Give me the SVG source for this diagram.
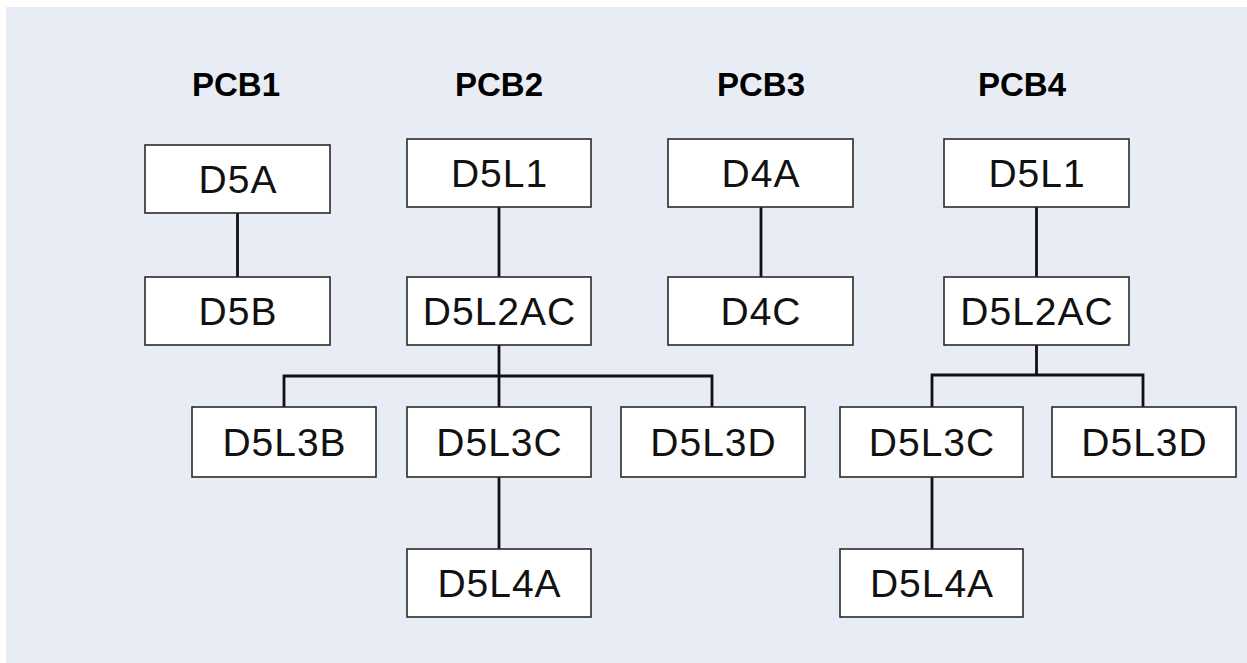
<svg xmlns="http://www.w3.org/2000/svg" width="1247" height="663" viewBox="0 0 1247 663">
<style>
.box{fill:#ffffff;stroke:#2a2a2a;stroke-width:1.6}
.lbl{font-family:"Liberation Sans",Arial,sans-serif;font-size:39px;letter-spacing:1px;fill:#111;text-anchor:middle}
.ttl{font-family:"Liberation Sans",Arial,sans-serif;font-size:33px;font-weight:bold;fill:#000;text-anchor:middle}
.con{fill:none;stroke:#111;stroke-width:2.8}
</style>
<rect x="0" y="0" width="1247" height="663" fill="#ffffff"/>
<rect x="6" y="7" width="1241" height="656" fill="#e8ecf4"/>
<g id="titles">
<text class="ttl" x="236" y="96">PCB1</text>
<text class="ttl" x="499" y="96">PCB2</text>
<text class="ttl" x="761" y="96">PCB3</text>
<text class="ttl" x="1022" y="96">PCB4</text>
</g>
<g id="connectors">
<path class="con" d="M237.5 213V277"/>
<path class="con" d="M499 207V277"/>
<path class="con" d="M499 345V407 M284 407V376H712V407"/>
<path class="con" d="M499 477V549"/>
<path class="con" d="M761 207V277"/>
<path class="con" d="M1036.5 207V277"/>
<path class="con" d="M1036.5 345V375 M932 407V375H1143V407"/>
<path class="con" d="M932 477V549"/>
</g>
<g id="pcb1-d5a"><rect class="box" x="145" y="145" width="185" height="68"/><text class="lbl" x="238" y="193">D5A</text></g>
<g id="pcb1-d5b"><rect class="box" x="145" y="277" width="185" height="68"/><text class="lbl" x="238" y="325">D5B</text></g>
<g id="pcb2-d5l1"><rect class="box" x="407" y="139" width="184" height="68"/><text class="lbl" x="499.5" y="187">D5L1</text></g>
<g id="pcb2-d5l2ac"><rect class="box" x="407" y="277" width="184" height="68"/><text class="lbl" x="499.5" y="325">D5L2AC</text></g>
<g id="pcb2-d5l3b"><rect class="box" x="192" y="407" width="184" height="70"/><text class="lbl" x="284.5" y="456">D5L3B</text></g>
<g id="pcb2-d5l3c"><rect class="box" x="407" y="407" width="184" height="70"/><text class="lbl" x="499.5" y="456">D5L3C</text></g>
<g id="pcb2-d5l3d"><rect class="box" x="621" y="407" width="184" height="70"/><text class="lbl" x="713.5" y="456">D5L3D</text></g>
<g id="pcb2-d5l4a"><rect class="box" x="407" y="549" width="184" height="68"/><text class="lbl" x="499.5" y="597">D5L4A</text></g>
<g id="pcb3-d4a"><rect class="box" x="668" y="139" width="185" height="68"/><text class="lbl" x="761" y="187">D4A</text></g>
<g id="pcb3-d4c"><rect class="box" x="668" y="277" width="185" height="68"/><text class="lbl" x="761" y="325">D4C</text></g>
<g id="pcb4-d5l1"><rect class="box" x="944" y="139" width="185" height="68"/><text class="lbl" x="1037" y="187">D5L1</text></g>
<g id="pcb4-d5l2ac"><rect class="box" x="944" y="277" width="185" height="68"/><text class="lbl" x="1037" y="325">D5L2AC</text></g>
<g id="pcb4-d5l3c"><rect class="box" x="840" y="407" width="183" height="70"/><text class="lbl" x="932" y="456">D5L3C</text></g>
<g id="pcb4-d5l3d"><rect class="box" x="1052" y="407" width="184" height="70"/><text class="lbl" x="1144.5" y="456">D5L3D</text></g>
<g id="pcb4-d5l4a"><rect class="box" x="840" y="549" width="183" height="68"/><text class="lbl" x="932" y="597">D5L4A</text></g>
</svg>
